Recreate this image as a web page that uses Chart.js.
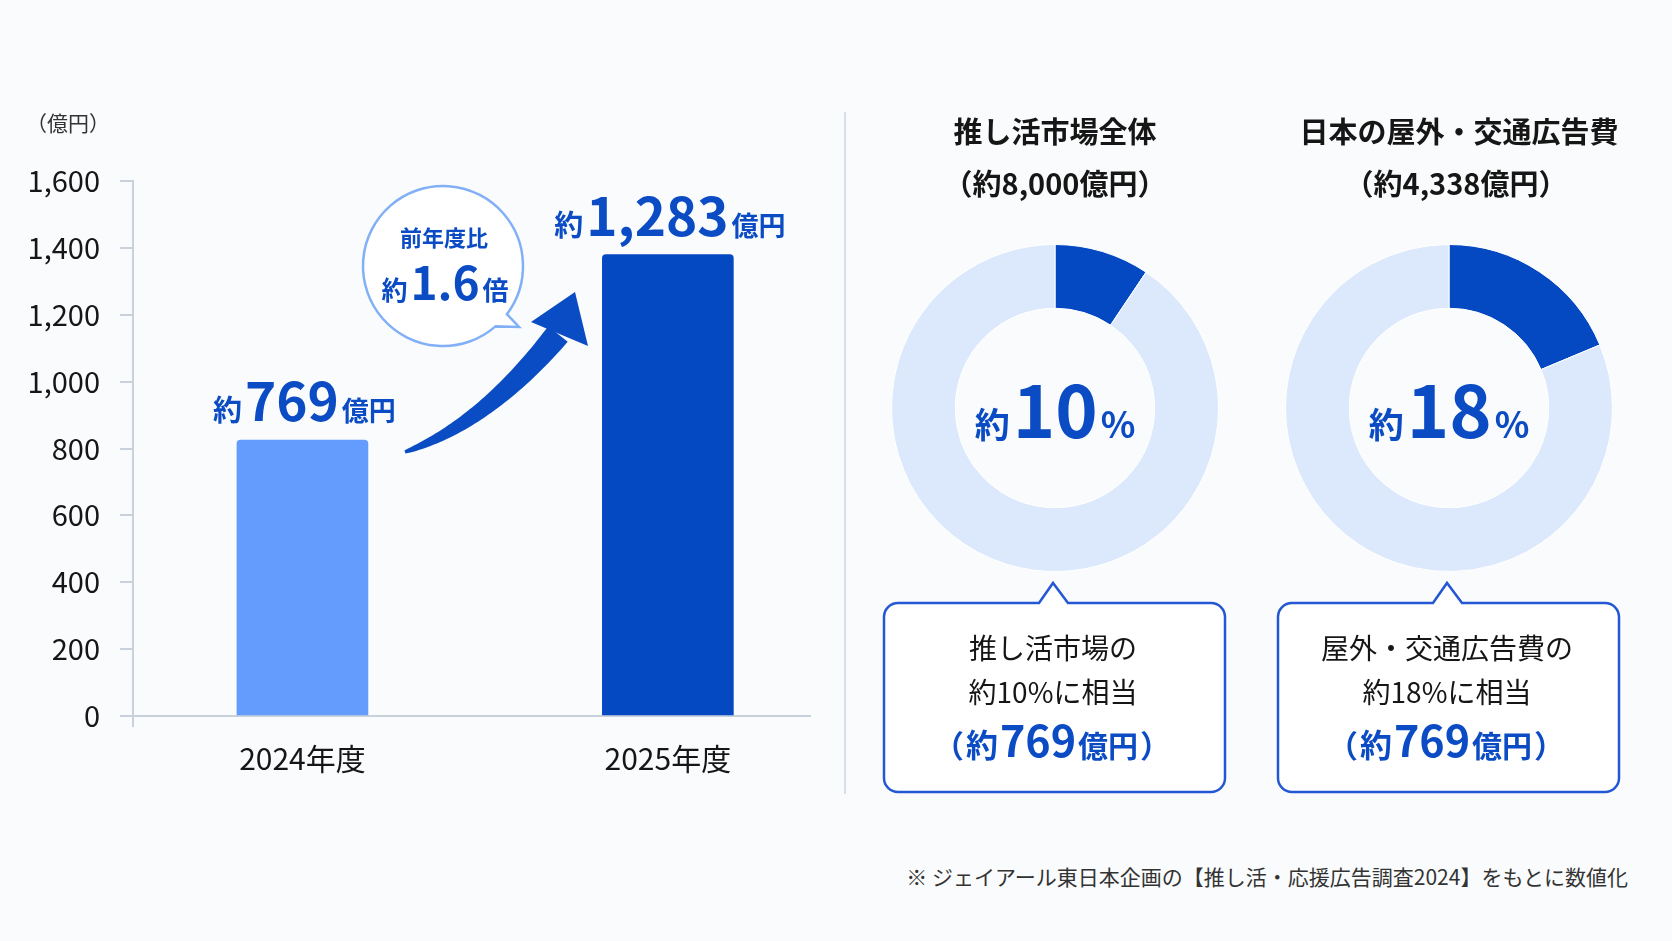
<!DOCTYPE html>
<html lang="ja">
<head>
<meta charset="utf-8">
<script src="https://cdn.jsdelivr.net/npm/chart.js@4.4.1/dist/chart.umd.min.js"></script>
<style>
  html, body { margin: 0; padding: 0; background: #fafbfc; }
  body { width: 1672px; height: 941px; position: relative; overflow: hidden; font-family: "Noto Sans CJK JP", sans-serif; }
  canvas { position: absolute; }
  #bar { left: 0; top: 0; }
  #donutA { left: 860px; top: 90px; }
  #donutB { left: 1254px; top: 90px; }
  .divider { position: absolute; left: 844px; top: 112px; width: 2px; height: 682px; background: #d9dfe7; }
  .note { position: absolute; right: 44px; top: 861px; font-size: 21px; line-height: 30px; color: #333; white-space: nowrap; }
</style>
</head>
<body>
<canvas id="bar" width="850" height="800"></canvas>
<div class="divider"></div>
<canvas id="donutA" width="390" height="720"></canvas>
<canvas id="donutB" width="390" height="720"></canvas>
<div class="note">※ ジェイアール東日本企画の【推し活・応援広告調査2024】をもとに数値化</div>

<script>
// ---------------------------------------------------------------
// DATA
// ---------------------------------------------------------------
const categories = ['2024年度', '2025年度'];
const barValues = [825, 1380];            // bar heights as drawn against the axis
const amountLabels = ['769', '1,283'];    // printed amounts (億円)
const barColors = ['#639cfd', '#0549c2'];
const yTickValues = [0, 200, 400, 600, 800, 1000, 1200, 1400, 1600];

const donutTitles = ['推し活市場全体', '日本の屋外・交通広告費'];
const donutTotals = ['約8,000億円', '約4,338億円'];
const donutShares = [9.4, 18.7];          // share of the dark slice (%)
const donutPercentLabels = ['10', '18'];
const calloutLines = [
    ['推し活市場の', '約10%に相当'],
    ['屋外・交通広告費の', '約18%に相当']
];
const calloutAmount = '769';

// ---------------------------------------------------------------
// STYLE
// ---------------------------------------------------------------
const FONT = '"Noto Sans CJK JP", "Noto Sans", sans-serif';
const BLUE = '#0b4cc5';
const DARK = '#161616';
const AXIS = '#c9d1dc';
const DONUT_DARK = '#0549c2';
const DONUT_LIGHT = '#dce8fc';
const titleShift = [0, 10];

// draw several text runs (different sizes) centered on cx, on one baseline
function drawRuns(ctx, runs, cx, baseline, gap) {
    const widths = runs.map(r => { ctx.font = r[1]; return ctx.measureText(r[0]).width; });
    const total = widths.reduce((a, b) => a + b, 0) + gap * (runs.length - 1);
    let x = cx - total / 2;
    ctx.textAlign = 'left';
    ctx.textBaseline = 'alphabetic';
    runs.forEach((r, i) => {
        ctx.font = r[1];
        ctx.fillStyle = r[2];
        ctx.fillText(r[0], x, baseline);
        x += widths[i] + gap;
    });
}

// tapered curved arrow body + head
function drawArrow(ctx, p0, p1, p2, w0, w1, head) {
    const n = 48, left = [], right = [];
    for (let i = 0; i <= n; i++) {
        const t = i / n, mt = 1 - t;
        const x = mt * mt * p0[0] + 2 * mt * t * p1[0] + t * t * p2[0];
        const y = mt * mt * p0[1] + 2 * mt * t * p1[1] + t * t * p2[1];
        const dx = 2 * mt * (p1[0] - p0[0]) + 2 * t * (p2[0] - p1[0]);
        const dy = 2 * mt * (p1[1] - p0[1]) + 2 * t * (p2[1] - p1[1]);
        const len = Math.hypot(dx, dy);
        const w = (w0 + (w1 - w0) * Math.pow(t, 0.75)) / 2;
        left.push([x - dy / len * w, y + dx / len * w]);
        right.push([x + dy / len * w, y - dx / len * w]);
    }
    ctx.beginPath();
    left.forEach((p, i) => i ? ctx.lineTo(p[0], p[1]) : ctx.moveTo(p[0], p[1]));
    right.reverse().forEach(p => ctx.lineTo(p[0], p[1]));
    ctx.closePath();
    ctx.fill();
    ctx.beginPath();
    ctx.moveTo(head[0][0], head[0][1]);
    ctx.lineTo(head[1][0], head[1][1]);
    ctx.lineTo(head[2][0], head[2][1]);
    ctx.closePath();
    ctx.fill();
}

// ---------------------------------------------------------------
// BAR CHART
// ---------------------------------------------------------------
const barDecor = {
    id: 'barDecor',
    afterDraw(chart) {
        const ctx = chart.ctx;
        const bars = chart.getDatasetMeta(0).data;
        ctx.save();

        // unit
        ctx.font = '21px ' + FONT;
        ctx.fillStyle = '#333';
        ctx.textAlign = 'center';
        ctx.textBaseline = 'middle';
        ctx.fillText('（億円）', 68, chart.scales.y.top - 58);

        // amounts above bars
        bars.forEach((bar, i) => {
            drawRuns(ctx, [
                ['約', 'bold 29px ' + FONT, BLUE],
                [amountLabels[i], 'bold 53px ' + FONT, BLUE],
                ['億円', 'bold 27px ' + FONT, BLUE]
            ], bar.x + 2, bar.y - 19, 3);
        });

        // speech bubble
        const bx = 443, by = 266, br = 80;
        ctx.beginPath();
        ctx.arc(bx, by, br, 49 * Math.PI / 180, (37 + 360) * Math.PI / 180);
        ctx.lineTo(519, 327);
        ctx.closePath();
        ctx.fillStyle = '#ffffff';
        ctx.fill();
        ctx.lineWidth = 2.5;
        ctx.strokeStyle = '#82b0f6';
        ctx.stroke();
        drawRuns(ctx, [['前年度比', 'bold 22px ' + FONT, BLUE]], bx + 1, by - 20, 0);
        drawRuns(ctx, [
            ['約', 'bold 26px ' + FONT, BLUE],
            ['1.6', 'bold 46px ' + FONT, BLUE],
            ['倍', 'bold 26px ' + FONT, BLUE]
        ], bx + 2, by + 34, 3);

        // growth arrow
        ctx.fillStyle = '#0a4cc4';
        drawArrow(ctx, [405, 452], [485, 424], [558, 334], 3, 25,
            [[531, 322], [575, 292], [588, 346]]);

        ctx.restore();
    }
};

new Chart(document.getElementById('bar'), {
    type: 'bar',
    data: {
        datasets: [{
            data: categories.map((c, i) => ({ x: i, y: barValues[i] })),
            backgroundColor: barColors,
            borderRadius: { topLeft: 4, topRight: 4, bottomLeft: 0, bottomRight: 0 },
            borderSkipped: 'bottom',
            barThickness: 131
        }]
    },
    options: {
        responsive: false,
        animation: false,
        layout: { padding: { top: 181, right: 40, bottom: 0, left: 0 } },
        plugins: { legend: { display: false }, tooltip: { enabled: false } },
        scales: {
            x: {
                type: 'linear',
                offset: false,
                min: -0.4637,
                max: 1.389,
                afterBuildTicks: s => {
                    s.ticks = [{ value: s.min }].concat(categories.map((c, i) => ({ value: i })));
                },
                afterFit: s => { s.height = 84; },
                ticks: {
                    autoSkip: false,
                    maxRotation: 0,
                    padding: 14,
                    color: DARK,
                    font: { family: FONT, size: 30 },
                    callback: (v, i) => i === 0 ? '' : categories[i - 1]
                },
                grid: {
                    offset: false,
                    drawOnChartArea: false,
                    tickLength: 11,
                    lineWidth: 2,
                    color: c => c.index === 0 ? AXIS : 'rgba(0,0,0,0)'
                },
                border: { color: AXIS, width: 2 }
            },
            y: {
                min: 0,
                max: 1600,
                afterBuildTicks: s => { s.ticks = yTickValues.map(v => ({ value: v })); },
                afterFit: s => { s.width = 133; },
                ticks: {
                    padding: 20,
                    color: DARK,
                    font: { family: FONT, size: 29 },
                    callback: v => v.toLocaleString('en-US')
                },
                grid: { drawOnChartArea: false, tickLength: 13, lineWidth: 2, color: AXIS },
                border: { color: AXIS, width: 2 }
            }
        }
    },
    plugins: [barDecor]
});

// ---------------------------------------------------------------
// DOUGHNUTS
// ---------------------------------------------------------------
function donutDecor(k) {
    return {
        id: 'donutDecor' + k,
        afterDraw(chart) {
            const ctx = chart.ctx;
            const arc = chart.getDatasetMeta(0).data[0];
            const cx = arc.x, cy = arc.y;
            ctx.save();

            // titles
            ctx.fillStyle = DARK;
            ctx.textAlign = 'center';
            ctx.textBaseline = 'alphabetic';
            ctx.font = 'bold 29px ' + FONT;
            ctx.fillText(donutTitles[k], cx + titleShift[k], cy - 265);
            ctx.fillText('（' + donutTotals[k] + '）', cx + titleShift[k] * 0.7, cy - 213);

            // centre figure
            drawRuns(ctx, [
                ['約', 'bold 35px ' + FONT, BLUE],
                [donutPercentLabels[k], 'bold 72px ' + FONT, BLUE],
                ['%', 'bold 36px ' + FONT, BLUE]
            ], cx, cy + 30, 3);

            // callout box
            const L = cx - 171, R = cx + 170, T = cy + 195, B = cy + 384, rad = 14;
            ctx.beginPath();
            ctx.moveTo(L + rad, T);
            ctx.lineTo(cx - 16, T);
            ctx.lineTo(cx - 2, cy + 175);
            ctx.lineTo(cx + 13, T);
            ctx.lineTo(R - rad, T);
            ctx.arcTo(R, T, R, T + rad, rad);
            ctx.lineTo(R, B - rad);
            ctx.arcTo(R, B, R - rad, B, rad);
            ctx.lineTo(L + rad, B);
            ctx.arcTo(L, B, L, B - rad, rad);
            ctx.lineTo(L, T + rad);
            ctx.arcTo(L, T, L + rad, T, rad);
            ctx.closePath();
            ctx.fillStyle = '#ffffff';
            ctx.fill();
            ctx.lineWidth = 2.5;
            ctx.strokeStyle = '#2457d4';
            ctx.stroke();

            ctx.fillStyle = DARK;
            ctx.textAlign = 'center';
            ctx.font = '28px ' + FONT;
            ctx.fillText(calloutLines[k][0], cx - 2, cy + 251);
            ctx.fillText(calloutLines[k][1], cx - 2, cy + 295);
            drawRuns(ctx, [
                ['（', 'bold 31px ' + FONT, BLUE],
                ['約', 'bold 32px ' + FONT, BLUE],
                [calloutAmount, 'bold 43px ' + FONT, BLUE],
                ['億円', 'bold 30px ' + FONT, BLUE],
                ['）', 'bold 31px ' + FONT, BLUE]
            ], cx - 3, cy + 349, 2);

            ctx.restore();
        }
    };
}

['donutA', 'donutB'].forEach((id, k) => {
    new Chart(document.getElementById(id), {
        type: 'doughnut',
        data: {
            labels: ['share', 'rest'],
            datasets: [{
                data: [donutShares[k], 100 - donutShares[k]],
                backgroundColor: [DONUT_DARK, DONUT_LIGHT],
                borderWidth: 1,
                borderColor: '#ffffff'
            }]
        },
        options: {
            responsive: false,
            animation: false,
            cutout: '61%',
            layout: { padding: { top: 154, bottom: 238, left: 31, right: 31 } },
            plugins: { legend: { display: false }, tooltip: { enabled: false } }
        },
        plugins: [donutDecor(k)]
    });
});
</script>
</body>
</html>
